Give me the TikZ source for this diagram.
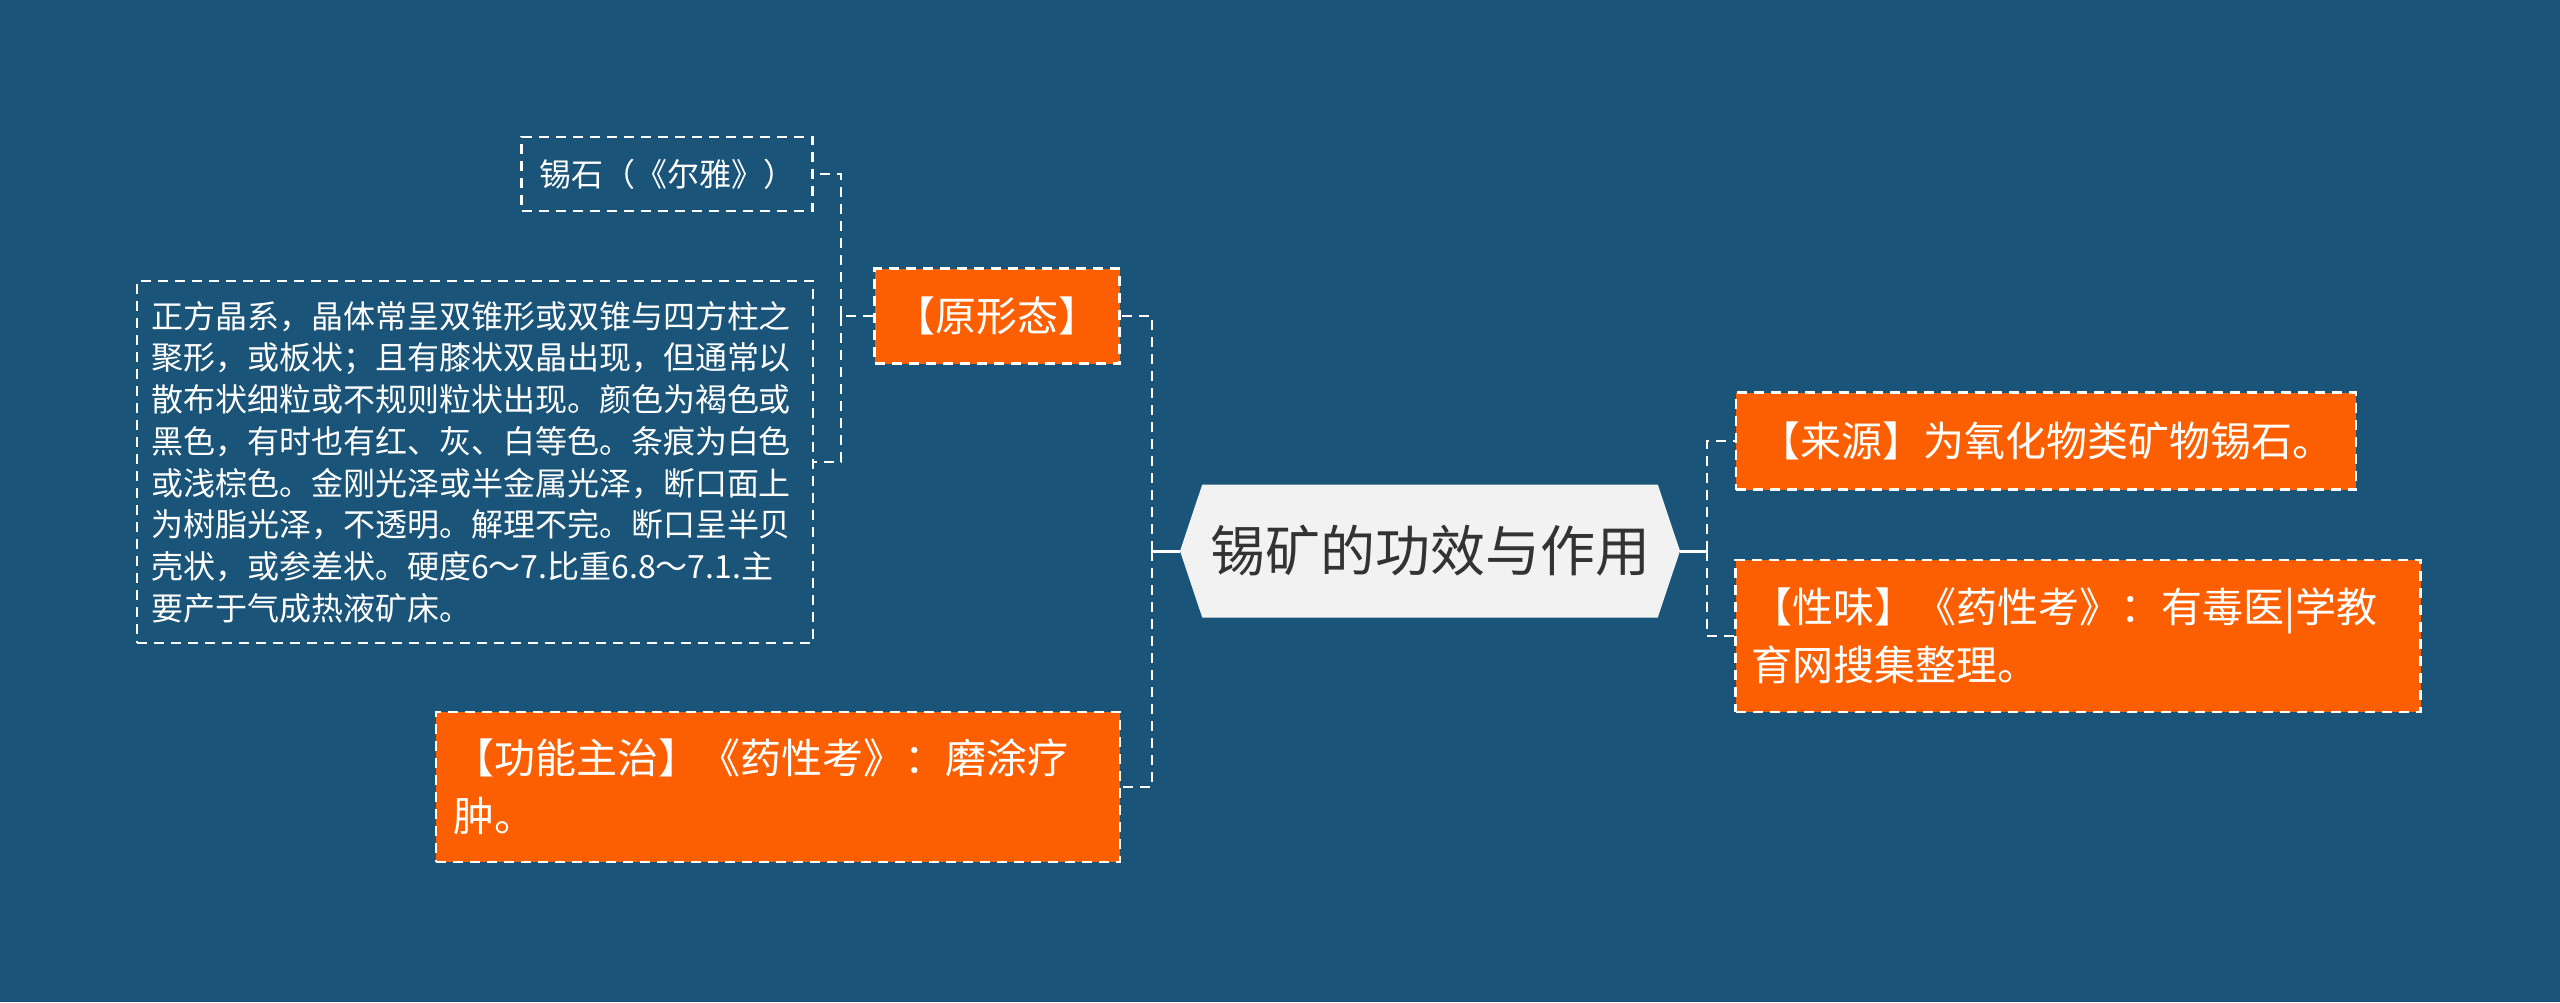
\documentclass[tikz,border=0pt]{standalone}
\usepackage{fontspec}
\newfontfamily\cjk{Noto Sans CJK SC}
\usetikzlibrary{shapes.symbols}
\definecolor{bgblue}{HTML}{1A5479}
\definecolor{leaforange}{HTML}{FC5F01}
\definecolor{rootgrey}{HTML}{F2F2F2}
\definecolor{roottext}{HTML}{333333}
\tikzset{
  rootlink/.style={draw=white, line width=3pt},
  dashlink/.style={draw=white, line width=2.5pt, dash pattern=on 10pt off 7pt},
  leafbox/.style={fill=leaforange, draw=white, line width=2.5pt,
    dash pattern=on 10pt off 7pt, text=white, inner sep=0pt,
    font=\cjk\fontsize{41}{58}\selectfont},
  notebox/.style={draw=white, line width=2.5pt, dash pattern=on 10pt off 7pt,
    text=white, inner sep=0pt, font=\cjk\fontsize{32}{41.7}\selectfont}
}
\begin{document}
\begin{tikzpicture}[x=1pt, y=-1pt]
    % Фон
    \fill[bgblue] (0,0) rectangle (2560,1002);
    \useasboundingbox (0,0) rectangle (2560,1002);

    % Центральний вузол
    \node[signal, signal to=west and east, signal pointer angle=143,
      fill=rootgrey, minimum width=500pt, minimum height=133pt, inner sep=0pt,
      text=roottext, font=\cjk\fontsize{55}{66}\selectfont]
      (root) at (1430,551) {锡矿的功效与作用};

    % Ліві гілки
    \node[leafbox, minimum width=245pt, minimum height=95pt] (yuan) at (997,316) {【原形态】};
    \node[leafbox, minimum width=684pt, minimum height=150pt, text width=650pt, align=left]
      (gong) at (778,787) {【功能主治】《药性考》：磨涂疗\\肿。};

    % Підвузли «原形态»
    \node[notebox, minimum width=291pt, minimum height=74pt] (xishi) at (667,174) {锡石（《尔雅》）};
    \node[notebox, minimum width=676pt, minimum height=362pt, text width=648pt, align=left]
      (desc) at (475,462) {正方晶系，晶体常呈双锥形或双锥与四方柱之\\
        聚形，或板状；且有膝状双晶出现，但通常以\\
        散布状细粒或不规则粒状出现。颜色为褐色或\\
        黑色，有时也有红、灰、白等色。条痕为白色\\
        或浅棕色。金刚光泽或半金属光泽，断口面上\\
        为树脂光泽，不透明。解理不完。断口呈半贝\\
        壳状，或参差状。硬度6～7.比重6.8～7.1.主\\
        要产于气成热液矿床。};

    % Праві гілки
    \node[leafbox, minimum width=620pt, minimum height=97pt] (laiyuan) at (2046,441) {【来源】为氧化物类矿物锡石。};
    \node[leafbox, minimum width=685pt, minimum height=152pt, text width=653pt, align=left]
      (xingwei) at (2078,636) {【性味】《药性考》：有毒医|学教\\育网搜集整理。};

    % Точки розгалуження
    \coordinate (lhub) at (1152,551);
    \coordinate (rhub) at (1707,551);
    \coordinate (yhub) at (841,316);

    % З'єднання
    \draw[rootlink] (root.west) -- (lhub);
    \draw[dashlink] (lhub) |- (yuan.east);
    \draw[dashlink] (lhub) |- (gong.east);
    \draw[rootlink] (root.east) -- (rhub);
    \draw[dashlink] (rhub) |- (laiyuan.west);
    \draw[dashlink] (rhub) |- (xingwei.west);
    \draw[dashlink] (yuan.west) -- (yhub);
    \draw[dashlink] (yhub) |- (xishi.east);
    \draw[dashlink] (yhub) |- (desc.east);
\end{tikzpicture}
\end{document}
